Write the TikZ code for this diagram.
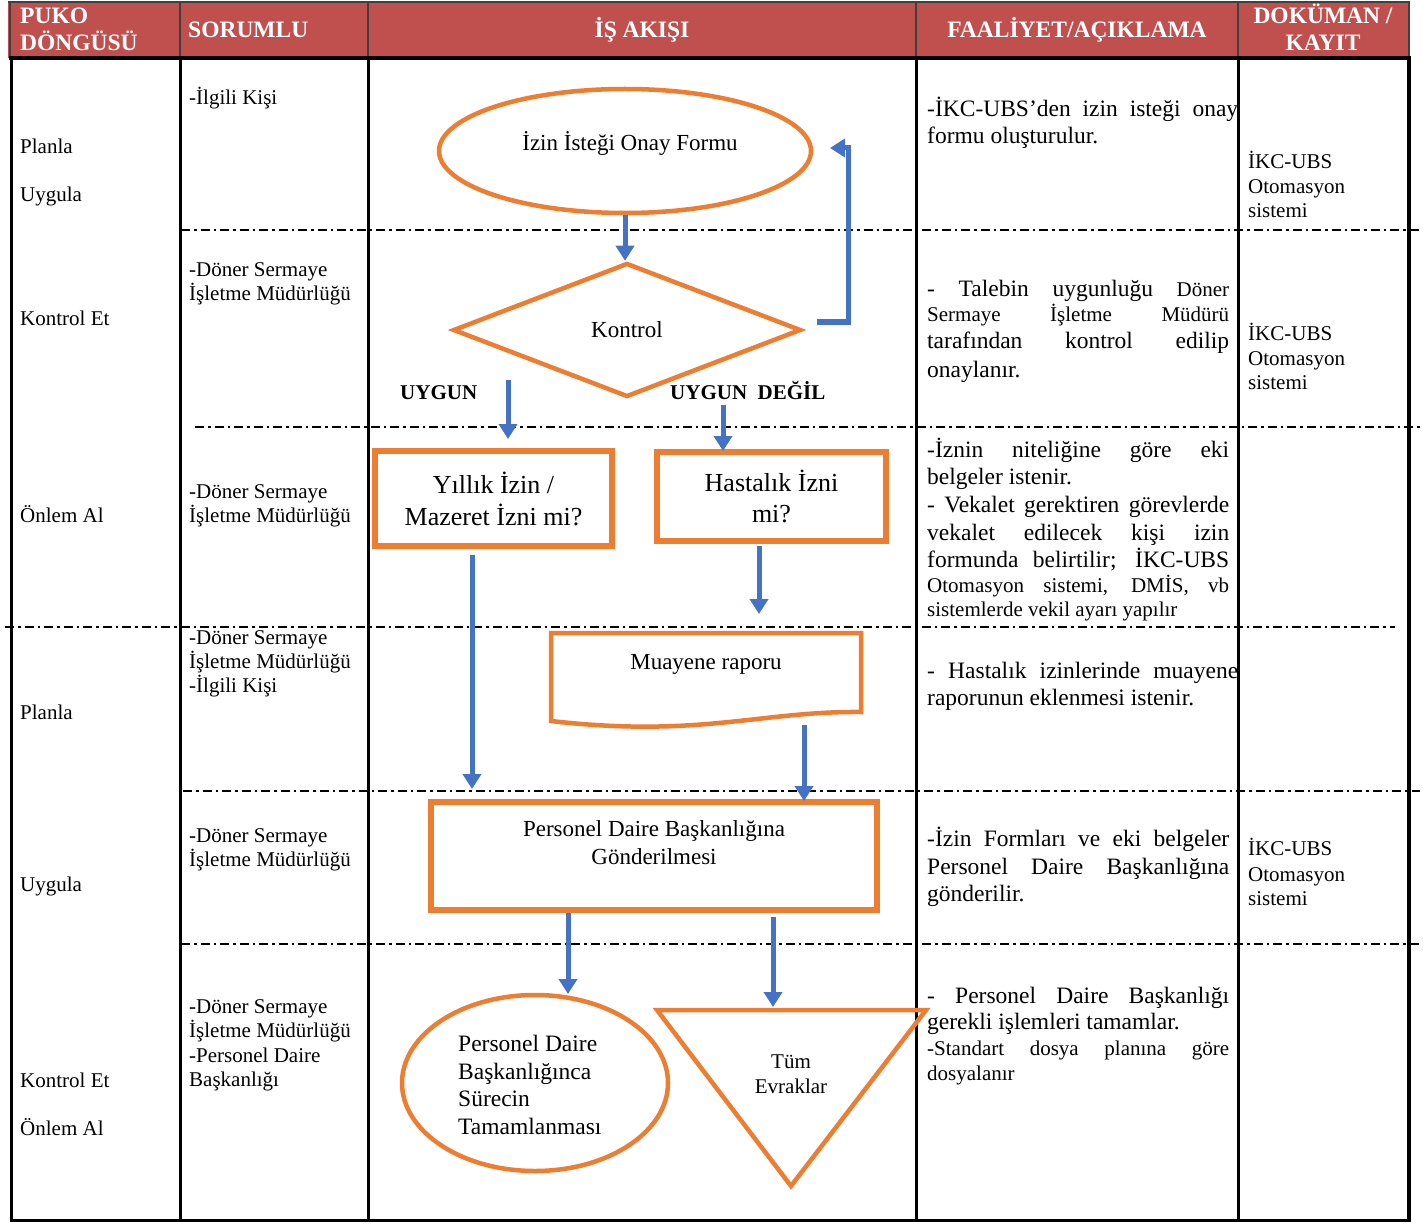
\documentclass[tikz,border=0pt]{standalone}
\usepackage{fontspec}
\setmainfont{Liberation Serif}
\usetikzlibrary{shapes.geometric,arrows.meta}
\definecolor{hdr}{HTML}{C0504D}
\definecolor{org}{HTML}{ED7D31}
\definecolor{blu}{HTML}{4472C4}
\newcommand\fs[1]{\fontsize{#1}{#1}\selectfont}
\newcommand\jl[2]{\makebox[#1][s]{#2}}
\begin{document}
\begin{tikzpicture}[x=1pt,y=-1pt,
 frame/.style={line width=3pt, black},
 hsep/.style={line width=2pt, black!75},
 dd/.style={line width=1.6pt, black, dash pattern=on 9pt off 4pt on 2.5pt off 4pt},
 hd/.style={inner sep=0pt, text=white, font=\bfseries\fs{23.5}},
 tl/.style={inner sep=0pt, anchor=base west},
 tc/.style={inner sep=0pt, anchor=base},
 nf/.style={font=\fs{21}},
 bf/.style={font=\fs{23.5}},
 ell/.style={ellipse, draw=org, line width=4.5pt, inner sep=0pt},
 box/.style={rectangle, draw=org, line width=5.5pt, inner sep=0pt, align=center},
 oline/.style={draw=org, line width=4.5pt, line join=miter},
 arr/.style={draw=blu, line width=5pt, line join=miter, -{Triangle[length=15pt,width=18pt]}},
]
\useasboundingbox (0,0) rectangle (1423,1222);
\fill[white] (0,0) rectangle (1423,1222);

% header
\fill[hdr] (8,2) rectangle (1410,58);
\draw[hsep] (8,2) -- (1410,2);
\foreach \xx in {10,180,368,916,1238,1409} \draw[hsep] (\xx,2) -- (\xx,58);
\node[hd,tl] (h1a) at (20,24) {PUKO};
\node[hd,tl] (h1b) at (20,51) {DÖNGÜSÜ};
\node[hd,tl] (h2) at (188,38) {SORUMLU};
\node[hd,tc] (h3) at (642,38) {İŞ AKIŞI};
\node[hd,tc] (h4) at (1077,38) {FAALİYET/AÇIKLAMA};
\node[hd,tc] (h5a) at (1323,24) {DOKÜMAN /};
\node[hd,tc] (h5b) at (1323,51) {KAYIT};

% grid
\draw[dd] (181,230) -- (1420,230);
\draw[dd] (195,427) -- (1420,427);
\draw[dd] (5,627) -- (1395,627);
\draw[dd] (183,791) -- (1420,791);
\draw[dd] (181,944) -- (1420,944);
\draw[line width=4pt] (9,58) -- (1411,58);
\foreach \xx in {11,180,368,916,1238} \draw[frame] (\xx,58) -- (\xx,1221);
\draw[line width=4pt] (1409,58) -- (1409,1221.5);
\draw[frame] (9.5,1220) -- (1411,1220);

% PUKO column
\node[tl,nf] (p1) at (20,154) {Planla};
\node[tl,nf] (p2) at (20,202) {Uygula};
\node[tl,nf] (p3) at (20,326) {Kontrol Et};
\node[tl,nf] (p4) at (20,522) {Önlem Al};
\node[tl,nf] (p5) at (20,719) {Planla};
\node[tl,nf] (p6) at (20,891) {Uygula};
\node[tl,nf] (p7) at (20,1087) {Kontrol Et};
\node[tl,nf] (p8) at (20,1135) {Önlem Al};

% SORUMLU column
\node[tl,nf] (s1) at (189,105) {-İlgili Kişi};
\node[tl,nf] (s2a) at (189,277) {-Döner Sermaye};
\node[tl,nf] (s2b) at (189,301) {İşletme Müdürlüğü};
\node[tl,nf] (s3a) at (189,498) {-Döner Sermaye};
\node[tl,nf] (s3b) at (189,522) {İşletme Müdürlüğü};
\node[tl,nf] (s4a) at (189,644) {-Döner Sermaye};
\node[tl,nf] (s4b) at (189,668) {İşletme Müdürlüğü};
\node[tl,nf] (s4c) at (189,692) {-İlgili Kişi};
\node[tl,nf] (s5a) at (189,842) {-Döner Sermaye};
\node[tl,nf] (s5b) at (189,866) {İşletme Müdürlüğü};
\node[tl,nf] (s6a) at (189,1013) {-Döner Sermaye};
\node[tl,nf] (s6b) at (189,1037) {İşletme Müdürlüğü};
\node[tl,nf] (s6c) at (189,1062) {-Personel Daire};
\node[tl,nf] (s6d) at (189,1086) {Başkanlığı};

% FAALIYET column
\node[tl,bf] (fa1) at (927,117) {\jl{311pt}{-İKC-UBS’den izin isteği onay}};
\node[tl,bf] (fa2) at (927,144) {formu oluşturulur.};
\node[tl,bf] (fb1) at (927,297) {\jl{302pt}{- Talebin uygunluğu {\fs{21}Döner}}};
\node[tl,nf] (fb2) at (927,322) {\jl{302pt}{Sermaye İşletme Müdürü}};
\node[tl,bf] (fb3) at (927,348) {\jl{302pt}{tarafından kontrol edilip}};
\node[tl,bf] (fb4) at (927,377) {onaylanır.};
\node[tl,bf] (fc1) at (927,457) {\jl{302pt}{-İznin niteliğine göre eki}};
\node[tl,bf] (fc2) at (927,484) {belgeler istenir.};
\node[tl,bf] (fc3) at (927,512) {\jl{302pt}{- Vekalet gerektiren görevlerde}};
\node[tl,bf] (fc4) at (927,540) {\jl{302pt}{vekalet edilecek kişi izin}};
\node[tl,bf] (fc5) at (927,567) {\jl{302pt}{formunda belirtilir; İKC-UBS}};
\node[tl,nf] (fc6) at (927,592) {\jl{302pt}{Otomasyon sistemi, DMİS, vb}};
\node[tl,nf] (fc7) at (927,616) {sistemlerde vekil ayarı yapılır};
\node[tl,bf] (fd1) at (927,678) {\jl{311pt}{- Hastalık izinlerinde muayene}};
\node[tl,bf] (fd2) at (927,705) {raporunun eklenmesi istenir.};
\node[tl,bf] (fe1) at (927,846) {\jl{302pt}{-İzin Formları ve eki belgeler}};
\node[tl,bf] (fe2) at (927,874) {\jl{302pt}{Personel Daire Başkanlığına}};
\node[tl,bf] (fe3) at (927,901) {gönderilir.};
\node[tl,bf] (ff1) at (927,1003) {\jl{302pt}{- Personel Daire Başkanlığı}};
\node[tl,bf] (ff2) at (927,1029) {gerekli işlemleri tamamlar.};
\node[tl,nf] (ff3) at (927,1055) {\jl{302pt}{-Standart dosya planına göre}};
\node[tl,nf] (ff4) at (927,1080) {dosyalanır};

% DOKUMAN column
\node[tl,nf] (d1a) at (1248,169) {İKC-UBS};
\node[tl,nf] (d1b) at (1248,194) {Otomasyon};
\node[tl,nf] (d1c) at (1248,218) {sistemi};
\node[tl,nf] (d2a) at (1248,340) {İKC-UBS};
\node[tl,nf] (d2b) at (1248,365) {Otomasyon};
\node[tl,nf] (d2c) at (1248,389) {sistemi};
\node[tl,nf] (d3a) at (1248,855) {İKC-UBS};
\node[tl,nf] (d3b) at (1248,881) {Otomasyon};
\node[tl,nf] (d3c) at (1248,905) {sistemi};

% flow shapes
\node[ell, minimum width=372, minimum height=124] (form) at (625,151) {};
\node[tc, font=\fs{23}] (formt) at (630,151) {İzin İsteği Onay Formu};
\node[diamond, draw=org, line width=4.5pt, inner sep=0pt, minimum width=348, minimum height=134, font=\fs{23}] (kon) at (627,330) {Kontrol};
\node[tl, font=\bfseries\fs{21}] (uy) at (400,399) {UYGUN};
\node[tl, font=\bfseries\fs{21}] (uyd) at (670,399) {UYGUN~\ DEĞİL};
\node[box, minimum width=237, minimum height=95, font=\fontsize{26}{32}\selectfont] (yil) at (493.5,498.5) {Yıllık İzin /\\Mazeret İzni mi?};
\node[box, minimum width=229, minimum height=89, font=\fontsize{26}{31}\selectfont] (has) at (771.5,496.5) {Hastalık İzni\\mi?};
\draw[oline] (551,633) -- (861,633) -- (861,712) .. controls (760,711) and (700,738) .. (551,721) -- cycle;
\node[tc, font=\fs{23}] (mua) at (706,669) {Muayene raporu};
\node[box, minimum width=446, minimum height=108] (pdb) at (654,856) {};
\node[tc, font=\fs{23}] (pdbt1) at (654,836) {Personel Daire Başkanlığına};
\node[tc, font=\fs{23}] (pdbt2) at (654,864) {Gönderilmesi};
\node[ell, minimum width=266, minimum height=176] (son) at (535,1083) {};
\node[tl, font=\fs{23.5}] (son1) at (458,1051) {Personel Daire};
\node[tl, font=\fs{23.5}] (son2) at (458,1079) {Başkanlığınca};
\node[tl, font=\fs{23.5}] (son3) at (458,1106) {Sürecin};
\node[tl, font=\fs{23.5}] (son4) at (458,1134) {Tamamlanması};
\draw[oline] (657,1010) -- (926,1010) -- (791,1186) -- cycle;
\node[tc, nf] (tum1) at (791,1068) {Tüm};
\node[tc, nf] (tum2) at (791,1093) {Evraklar};

% connectors
\draw[arr] (form.south) -- (form.south |- kon.north);
\coordinate (L1) at (817,322);
\coordinate (L2) at (830,148);
\draw[arr] (L1) -- (848,322) |- (L2);
\coordinate (u1) at (508,380); \coordinate (u2) at (508,439);
\draw[arr] (u1) -- (u2);
\coordinate (d1) at (723,405); \coordinate (d2) at (723,451);
\draw[arr] (d1) -- (d2);
\coordinate (y1) at (472,555); \coordinate (y2) at (472,789);
\draw[arr] (y1) -- (y2);
\coordinate (hh1) at (759,546); \coordinate (hh2) at (759,614);
\draw[arr] (hh1) -- (hh2);
\coordinate (m1) at (804,725); \coordinate (m2) at (804,801);
\draw[arr] (m1) -- (m2);
\coordinate (q1) at (568,913); \coordinate (q2) at (568,994);
\draw[arr] (q1) -- (q2);
\coordinate (r1) at (773,917); \coordinate (r2) at (773,1007);
\draw[arr] (r1) -- (r2);
\end{tikzpicture}
\end{document}
